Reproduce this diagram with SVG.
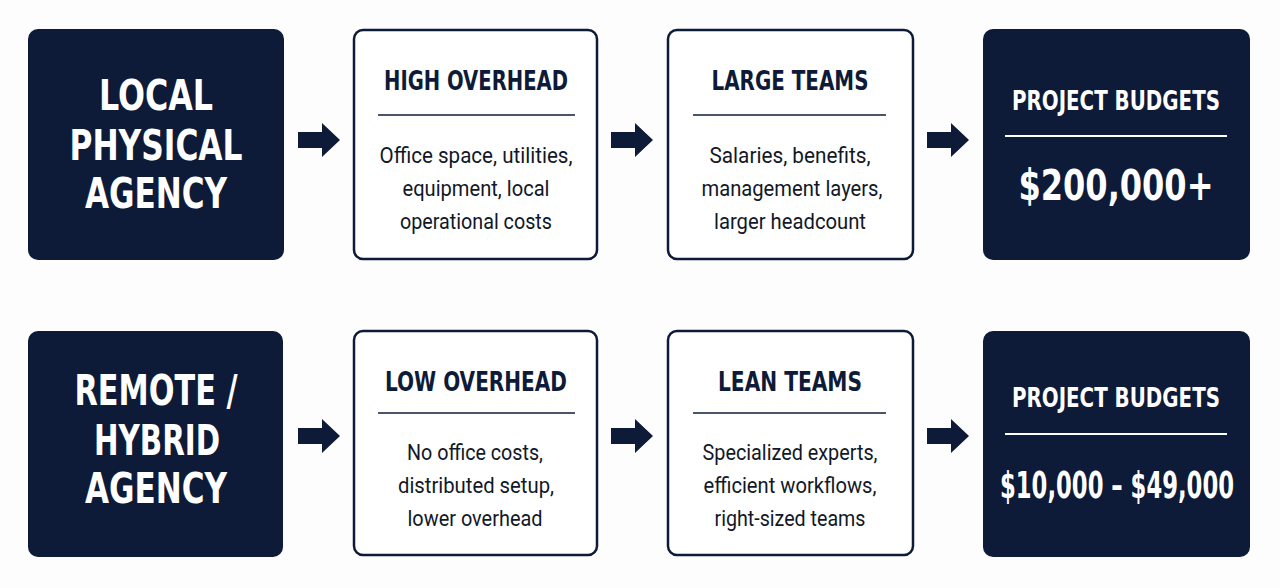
<svg xmlns="http://www.w3.org/2000/svg" width="1280" height="588" viewBox="0 0 1280 588">
<style>
.dark{fill:#0e1b38}
.light{fill:#ffffff;stroke:#0e1b38;stroke-width:2.5}
.t{font-family:"DejaVu Sans Condensed","Roboto","Liberation Sans",sans-serif;font-weight:bold;text-anchor:middle}
.w{fill:#ffffff}
.n{fill:#0e1b38}
.b{font-family:"Roboto","DejaVu Sans Condensed","Liberation Sans",sans-serif;font-weight:normal;text-anchor:middle;fill:#111827;font-size:22px}
.dl{stroke:#0e1b38;stroke-width:1.5}
.wl{stroke:#ffffff;stroke-width:2}
</style>
<defs>
<path id="arr" d="M0,-8 H24 V-17 L42,0 L24,17 V8 H0 Z" fill="#0e1b38"/>
</defs>
<rect width="1280" height="588" fill="#fdfdfd"/>
<g id="connectors">
<use href="#arr" transform="translate(298,140)"/>
<use href="#arr" transform="translate(611,140)"/>
<use href="#arr" transform="translate(927,140)"/>
<use href="#arr" transform="translate(298,436)"/>
<use href="#arr" transform="translate(611,436)"/>
<use href="#arr" transform="translate(927,436)"/>
</g>
<g id="local-agency">
<rect class="dark" x="28" y="29" width="256" height="231" rx="10"/>
<text class="t w" font-size="42" x="156" y="110" textLength="114" lengthAdjust="spacingAndGlyphs">LOCAL</text>
<text class="t w" font-size="42" x="156" y="160" textLength="173" lengthAdjust="spacingAndGlyphs">PHYSICAL</text>
<text class="t w" font-size="42" x="156" y="208" textLength="142" lengthAdjust="spacingAndGlyphs">AGENCY</text>
</g>
<g id="high-overhead">
<rect class="light" x="354" y="30" width="243" height="229" rx="9"/>
<text class="t n" font-size="26" x="476" y="90" textLength="184" lengthAdjust="spacingAndGlyphs">HIGH OVERHEAD</text>
<line class="dl" x1="378" y1="115" x2="575" y2="115"/>
<text class="b" x="476" y="163" textLength="193" lengthAdjust="spacingAndGlyphs">Office space, utilities,</text>
<text class="b" x="476" y="196" textLength="147" lengthAdjust="spacingAndGlyphs">equipment, local</text>
<text class="b" x="476" y="229" textLength="152" lengthAdjust="spacingAndGlyphs">operational costs</text>
</g>
<g id="large-teams">
<rect class="light" x="668" y="30" width="245" height="229" rx="9"/>
<text class="t n" font-size="26" x="790" y="90" textLength="157" lengthAdjust="spacingAndGlyphs">LARGE TEAMS</text>
<line class="dl" x1="693" y1="115" x2="886" y2="115"/>
<text class="b" x="790" y="163" textLength="161" lengthAdjust="spacingAndGlyphs">Salaries, benefits,</text>
<text class="b" x="792" y="196" textLength="181" lengthAdjust="spacingAndGlyphs">management layers,</text>
<text class="b" x="790" y="229" textLength="152" lengthAdjust="spacingAndGlyphs">larger headcount</text>
</g>
<g id="budget-high">
<rect class="dark" x="983" y="29" width="267" height="231" rx="10"/>
<text class="t w" font-size="27" x="1116" y="110" textLength="208" lengthAdjust="spacingAndGlyphs">PROJECT BUDGETS</text>
<line class="wl" x1="1005" y1="136" x2="1227" y2="136"/>
<text class="t w" font-size="42" x="1116" y="200" textLength="195" lengthAdjust="spacingAndGlyphs">$200,000+</text>
</g>
<g id="remote-agency">
<rect class="dark" x="28" y="331" width="255" height="226" rx="10"/>
<text class="t w" font-size="42" x="156" y="405" textLength="163" lengthAdjust="spacingAndGlyphs">REMOTE /</text>
<text class="t w" font-size="42" x="157" y="455" textLength="126" lengthAdjust="spacingAndGlyphs">HYBRID</text>
<text class="t w" font-size="42" x="156" y="503" textLength="142" lengthAdjust="spacingAndGlyphs">AGENCY</text>
</g>
<g id="low-overhead">
<rect class="light" x="354" y="331" width="243" height="224" rx="9"/>
<text class="t n" font-size="26" x="476" y="391" textLength="182" lengthAdjust="spacingAndGlyphs">LOW OVERHEAD</text>
<line class="dl" x1="378" y1="413" x2="575" y2="413"/>
<text class="b" x="475" y="460" textLength="136" lengthAdjust="spacingAndGlyphs">No office costs,</text>
<text class="b" x="476" y="493" textLength="156" lengthAdjust="spacingAndGlyphs">distributed setup,</text>
<text class="b" x="475" y="526" textLength="135" lengthAdjust="spacingAndGlyphs">lower overhead</text>
</g>
<g id="lean-teams">
<rect class="light" x="668" y="331" width="245" height="224" rx="9"/>
<text class="t n" font-size="26" x="790" y="391" textLength="144" lengthAdjust="spacingAndGlyphs">LEAN TEAMS</text>
<line class="dl" x1="693" y1="413" x2="886" y2="413"/>
<text class="b" x="790" y="460" textLength="175" lengthAdjust="spacingAndGlyphs">Specialized experts,</text>
<text class="b" x="790" y="493" textLength="173" lengthAdjust="spacingAndGlyphs">efficient workflows,</text>
<text class="b" x="790" y="526" textLength="151" lengthAdjust="spacingAndGlyphs">right-sized teams</text>
</g>
<g id="budget-low">
<rect class="dark" x="983" y="331" width="267" height="226" rx="10"/>
<text class="t w" font-size="27" x="1116" y="407" textLength="208" lengthAdjust="spacingAndGlyphs">PROJECT BUDGETS</text>
<line class="wl" x1="1005" y1="434" x2="1227" y2="434"/>
<text class="t w" font-size="25" transform="translate(1117,498) scale(1,1.5)" x="0" y="0" textLength="234" lengthAdjust="spacingAndGlyphs">$10,000 – $49,000</text>
</g>
</svg>
